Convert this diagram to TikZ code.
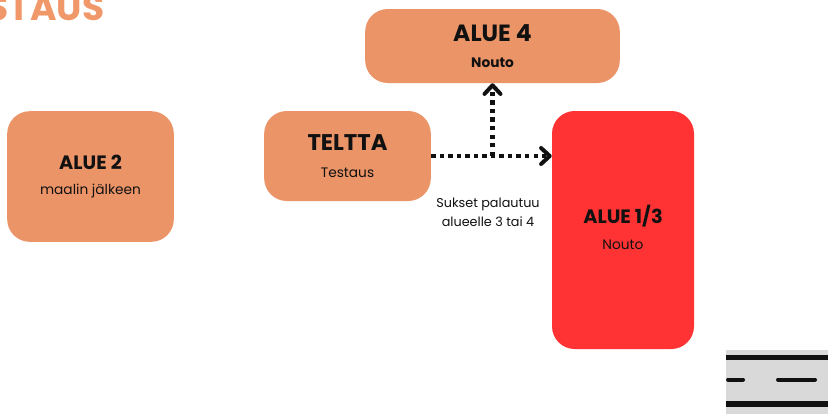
\documentclass[tikz,border=0pt]{standalone}
\usepackage{fontspec}
\setmainfont{Poppins}
\usepackage{xcolor}
\usetikzlibrary{arrows.meta}
\definecolor{aluecol}{HTML}{EB9467}
\definecolor{redcol}{HTML}{FF3333}
\definecolor{titlecol}{HTML}{F0986A}
\definecolor{roadcol}{HTML}{D9D9D9}
\definecolor{inkcol}{HTML}{111111}
\tikzset{
	alue/.style={rectangle, fill=aluecol, rounded corners=17pt, inner sep=0pt, align=center, text=inkcol},
	alue1/.style={alue, fill=redcol},
	roadline/.style={line width=4.4pt, inkcol},
	mydotted/.style={dash pattern=on 3.3pt off 3.1pt, line width=3.3pt, inkcol},
	mytip/.style={-{Straight Barb[length=6.5pt,width=12pt,line width=3pt,round]}}
}
\newcommand{\aluehead}[1]{{\fontsize{14.5pt}{17pt}\selectfont\bfseries #1}}
\newcommand{\aluesub}[1]{{\fontsize{10.3pt}{12pt}\selectfont #1}}
\begin{document}
\begin{tikzpicture}[x=0.75pt,y=-0.75pt]
	\useasboundingbox (0,0) rectangle (828,414);
	\node[anchor=base east, inner sep=0pt, text=titlecol, font={\fontsize{27pt}{30pt}\selectfont\bfseries}] at (104.5,20) (title) {TESTAUS};
	
	\node[alue, minimum width=191pt, minimum height=55.5pt] at (492.5,46) (A4) {{\fontsize{17.6pt}{20pt}\selectfont\bfseries ALUE 4}\\[8pt]{\aluesub{\bfseries Nouto}}};
	\node[alue, minimum width=125pt, minimum height=98pt] at (90.5,176.5) (A2) {\aluehead{ALUE 2}\\[6.5pt]\aluesub{maalin jälkeen}};
	\node[alue, minimum width=125pt, minimum height=67.5pt] at (347.5,156) (T) {{\fontsize{17pt}{20pt}\selectfont\bfseries TELTTA}\\[8pt]\aluesub{Testaus}};
	\node[alue1, minimum width=106.5pt, minimum height=178.5pt] at (623,230) (A1) {\aluehead{ALUE 1/3}\\[7pt]\aluesub{Nouto}\rule[-3.8pt]{0pt}{3.8pt}};
	\node[align=center, font={\fontsize{9.6pt}{14.25pt}\selectfont}, text=inkcol] at (488,212.5) (T1) {Sukset palautuu\\alueelle 3 tai 4};
	
	%Lines
	\coordinate (M) at (T.east -| A4.south);
	\draw[mydotted, mytip] (T.east) -- (A1.west |- T.east);
	\draw[mydotted, mytip] (M) -- (A4.south);
	
	%road
	\node[fill=roadcol, inner sep=0pt, minimum width=76.5pt, minimum height=48pt] at (777,382) (road) {};
	\draw[roadline] (road.west |- 0,357.5) -- (road.east |- 0,357.5);
	\draw[roadline, line width=3.8pt] (road.west |- 0,404) -- (road.east |- 0,404);
	\draw[roadline, line width=3pt, line cap=round] (728,379.5) -- (743,379.5);
	\draw[roadline, line width=3pt, line cap=round] (778,379.5) -- (815,379.5);
\end{tikzpicture}
\end{document}
